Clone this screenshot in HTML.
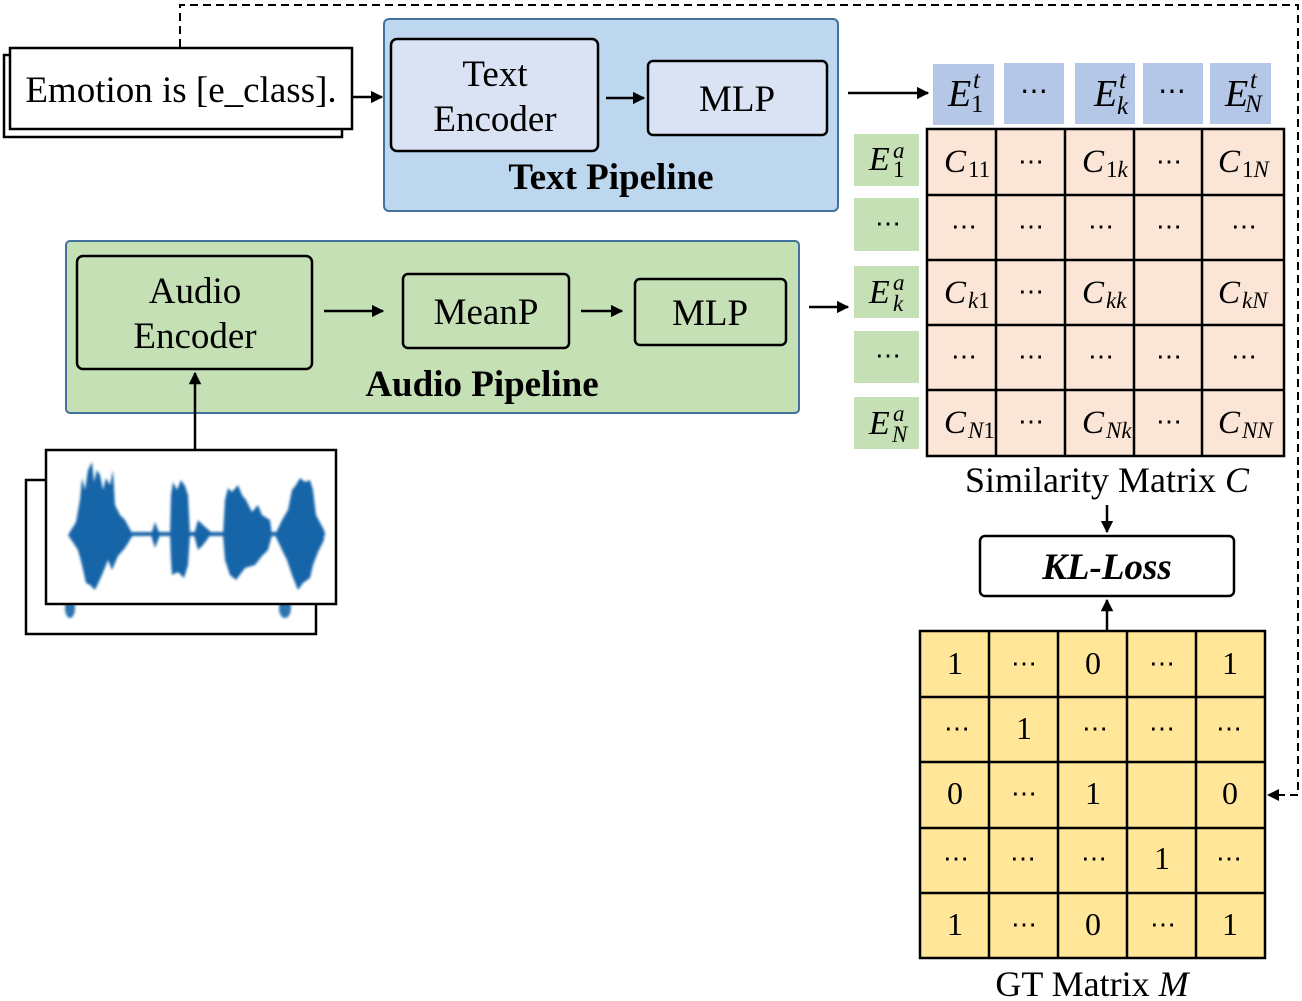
<!DOCTYPE html>
<html><head><meta charset="utf-8">
<style>
html,body{margin:0;padding:0;background:#fff;}
svg{display:block;}
text{font-family:"Liberation Serif",serif;}
.m{font-style:italic;}
</style></head>
<body>
<svg width="1302" height="1001" viewBox="0 0 1302 1001" xmlns="http://www.w3.org/2000/svg">
<defs>
<marker id="ah" viewBox="0 0 10 10" refX="9" refY="5" markerWidth="5" markerHeight="5" orient="auto"><path d="M0,0 L10,5 L0,10 z" fill="#000"/></marker>
<filter id="bl"><feGaussianBlur stdDeviation="1.2"/></filter>
</defs>

<polyline points="180,47 180,5 1298,5 1298,795 1270,795" fill="none" stroke="#000" stroke-width="2" stroke-dasharray="8,5"/>
<path d="M1267,795 l12,-6 v12 z" fill="#000"/>

<rect x="4" y="55" width="338" height="82" fill="#fff" stroke="#000" stroke-width="2.5"/>
<rect x="10" y="48" width="342" height="81" fill="#fff" stroke="#000" stroke-width="2.5"/>
<text x="181" y="102" font-size="37" text-anchor="middle">Emotion is [e_class].</text>
<line x1="352" y1="97" x2="382" y2="97" stroke="#000" stroke-width="2.5" marker-end="url(#ah)"/>

<rect x="384" y="19" width="454" height="192" rx="5" fill="#bdd7ee" stroke="#41719c" stroke-width="2"/>
<rect x="391" y="39" width="207" height="112" rx="6" fill="#dae3f3" stroke="#000" stroke-width="2.5"/>
<text x="495" y="86" font-size="37" text-anchor="middle">Text</text>
<text x="495" y="131" font-size="37" text-anchor="middle">Encoder</text>
<line x1="606" y1="98" x2="644" y2="98" stroke="#000" stroke-width="2.5" marker-end="url(#ah)"/>
<rect x="648" y="61" width="179" height="74" rx="5" fill="#dae3f3" stroke="#000" stroke-width="2.5"/>
<text x="737" y="111" font-size="37" text-anchor="middle">MLP</text>
<text x="611" y="189" font-size="37" font-weight="bold" text-anchor="middle">Text Pipeline</text>
<line x1="848" y1="93" x2="928" y2="93" stroke="#000" stroke-width="2.5" marker-end="url(#ah)"/>

<g fill="#b4c7e7">
<rect x="933" y="64" width="61" height="61"/><rect x="1004" y="63" width="60" height="61"/>
<rect x="1075" y="63" width="60" height="61"/><rect x="1143" y="63" width="60" height="61"/>
<rect x="1210" y="63" width="61" height="61"/></g>
<g font-size="38">
<text x="948" y="106" class="m">E</text><text x="973" y="88" font-size="25" class="m">t</text><text x="971" y="112" font-size="25">1</text>
<text x="1094" y="106" class="m">E</text><text x="1119" y="88" font-size="25" class="m">t</text><text x="1117" y="114" font-size="25" class="m">k</text>
<text x="1225" y="106" class="m">E</text><text x="1250" y="88" font-size="25" class="m">t</text><text x="1245" y="112" font-size="25" class="m">N</text>
</g>
<g font-size="28" text-anchor="middle">
<text x="1034" y="100">⋯</text><text x="1172" y="100">⋯</text>
</g>

<g fill="#c5e0b4">
<rect x="854" y="134" width="65" height="52"/><rect x="854" y="198" width="65" height="53"/>
<rect x="854" y="266" width="65" height="52"/><rect x="854" y="331" width="65" height="52"/>
<rect x="854" y="397" width="65" height="52"/></g>
<g font-size="34">
<text x="869" y="170" class="m">E</text><text x="893" y="158" font-size="23" class="m">a</text><text x="893" y="177" font-size="23">1</text>
<text x="869" y="303" class="m">E</text><text x="893" y="290" font-size="23" class="m">a</text><text x="893" y="311" font-size="23" class="m">k</text>
<text x="869" y="434" class="m">E</text><text x="893" y="421" font-size="23" class="m">a</text><text x="892" y="442" font-size="23" class="m">N</text>
</g>
<g font-size="26" text-anchor="middle">
<text x="888" y="232">⋯</text><text x="888" y="364">⋯</text>
</g>
<line x1="809" y1="307" x2="848" y2="307" stroke="#000" stroke-width="2.5" marker-end="url(#ah)"/>

<rect x="927" y="129" width="357" height="327" fill="#fbe5d6" stroke="#000" stroke-width="2.5"/>
<g stroke="#000" stroke-width="2.5">
<line x1="996" y1="129" x2="996" y2="456"/><line x1="1065" y1="129" x2="1065" y2="456"/>
<line x1="1134" y1="129" x2="1134" y2="456"/><line x1="1202" y1="129" x2="1202" y2="456"/>
<line x1="927" y1="195" x2="1284" y2="195"/><line x1="927" y1="260" x2="1284" y2="260"/>
<line x1="927" y1="325" x2="1284" y2="325"/><line x1="927" y1="390" x2="1284" y2="390"/>
</g>
<g font-size="33">
<text x="944" y="172" class="m">C<tspan font-size="23" font-style="normal" dx="2" dy="5">11</tspan></text>
<text x="1082" y="172" class="m">C<tspan font-size="23" font-style="normal" dx="2" dy="5">1</tspan><tspan font-size="23">k</tspan></text>
<text x="1218" y="172" class="m">C<tspan font-size="23" font-style="normal" dx="2" dy="5">1</tspan><tspan font-size="23">N</tspan></text>
<text x="944" y="303" class="m">C<tspan font-size="23" dx="2" dy="5">k</tspan><tspan font-size="23" font-style="normal">1</tspan></text>
<text x="1082" y="303" class="m">C<tspan font-size="23" dx="2" dy="5">kk</tspan></text>
<text x="1218" y="303" class="m">C<tspan font-size="23" dx="2" dy="5">kN</tspan></text>
<text x="944" y="433" class="m">C<tspan font-size="23" dx="2" dy="5">N</tspan><tspan font-size="23" font-style="normal">1</tspan></text>
<text x="1082" y="433" class="m">C<tspan font-size="23" dx="2" dy="5">Nk</tspan></text>
<text x="1218" y="433" class="m">C<tspan font-size="23" dx="2" dy="5">NN</tspan></text>
</g>
<g font-size="26" text-anchor="middle">
<text x="1031" y="170">⋯</text><text x="1169" y="170">⋯</text>
<text x="964" y="235">⋯</text><text x="1031" y="235">⋯</text><text x="1101" y="235">⋯</text><text x="1169" y="235">⋯</text><text x="1244" y="235">⋯</text>
<text x="1031" y="300">⋯</text>
<text x="964" y="365">⋯</text><text x="1031" y="365">⋯</text><text x="1101" y="365">⋯</text><text x="1169" y="365">⋯</text><text x="1244" y="365">⋯</text>
<text x="1031" y="430">⋯</text><text x="1169" y="430">⋯</text>
</g>
<text x="1107" y="492" font-size="36" text-anchor="middle">Similarity Matrix <tspan class="m">C</tspan></text>
<line x1="1107" y1="505" x2="1107" y2="532" stroke="#000" stroke-width="2.5" marker-end="url(#ah)"/>

<rect x="980" y="536" width="254" height="60" rx="5" fill="#fff" stroke="#000" stroke-width="2.5"/>
<text x="1107" y="579" font-size="37" font-weight="bold" font-style="italic" text-anchor="middle">KL-Loss</text>
<line x1="1107" y1="630" x2="1107" y2="600" stroke="#000" stroke-width="2.5" marker-end="url(#ah)"/>

<rect x="920" y="631" width="345" height="327" fill="#ffe699" stroke="#000" stroke-width="2.5"/>
<g stroke="#000" stroke-width="2.5">
<line x1="989" y1="631" x2="989" y2="958"/><line x1="1058" y1="631" x2="1058" y2="958"/>
<line x1="1127" y1="631" x2="1127" y2="958"/><line x1="1196" y1="631" x2="1196" y2="958"/>
<line x1="920" y1="697" x2="1265" y2="697"/><line x1="920" y1="762" x2="1265" y2="762"/>
<line x1="920" y1="828" x2="1265" y2="828"/><line x1="920" y1="893" x2="1265" y2="893"/>
</g>
<g font-size="32" text-anchor="middle">
<text x="955" y="674">1</text><text x="1093" y="674">0</text><text x="1230" y="674">1</text>
<text x="1024" y="739">1</text>
<text x="955" y="804">0</text><text x="1093" y="804">1</text><text x="1230" y="804">0</text>
<text x="1162" y="869">1</text>
<text x="955" y="935">1</text><text x="1093" y="935">0</text><text x="1230" y="935">1</text>
</g>
<g font-size="26" text-anchor="middle">
<text x="1024" y="672">⋯</text><text x="1162" y="672">⋯</text>
<text x="957" y="737">⋯</text><text x="1095" y="737">⋯</text><text x="1162" y="737">⋯</text><text x="1229" y="737">⋯</text>
<text x="1024" y="802">⋯</text>
<text x="956" y="867">⋯</text><text x="1023" y="867">⋯</text><text x="1094" y="867">⋯</text><text x="1229" y="867">⋯</text>
<text x="1024" y="933">⋯</text><text x="1163" y="933">⋯</text>
</g>
<text x="1092" y="996" font-size="36" text-anchor="middle">GT Matrix <tspan class="m">M</tspan></text>

<rect x="66" y="241" width="733" height="172" rx="4" fill="#c5e0b4" stroke="#41719c" stroke-width="2"/>
<rect x="77" y="256" width="235" height="113" rx="6" fill="#c5e0b4" stroke="#000" stroke-width="2.5"/>
<text x="195" y="303" font-size="37" text-anchor="middle">Audio</text>
<text x="195" y="348" font-size="37" text-anchor="middle">Encoder</text>
<line x1="324" y1="311" x2="383" y2="311" stroke="#000" stroke-width="2.5" marker-end="url(#ah)"/>
<rect x="403" y="274" width="166" height="74" rx="5" fill="#c5e0b4" stroke="#000" stroke-width="2.5"/>
<text x="486" y="324" font-size="37" text-anchor="middle">MeanP</text>
<line x1="581" y1="311" x2="622" y2="311" stroke="#000" stroke-width="2.5" marker-end="url(#ah)"/>
<rect x="635" y="279" width="151" height="66" rx="5" fill="#c5e0b4" stroke="#000" stroke-width="2.5"/>
<text x="710" y="325" font-size="37" text-anchor="middle">MLP</text>
<text x="482" y="396" font-size="37" font-weight="bold" text-anchor="middle">Audio Pipeline</text>

<rect x="26" y="480" width="290" height="154" fill="#fff" stroke="#000" stroke-width="2.5"/>
<g fill="#1565a8" filter="url(#bl)" opacity="0.9">
<ellipse cx="70" cy="608" rx="5" ry="10"/><ellipse cx="285" cy="608" rx="6" ry="10"/>
</g>
<rect x="46" y="450" width="290" height="154" fill="#fff" stroke="#000" stroke-width="2.5"/>
<g fill="#1565a8" filter="url(#bl)">
<rect x="70" y="532" width="255" height="4"/>
<polygon points="68,535 76,522 80,500 82,478 85,490 88,470 92,462 94,482 97,470 100,475 103,490 106,478 110,485 113,470 115,505 120,515 125,520 133,535 125,548 118,556 112,570 108,560 102,575 95,590 90,585 86,583 82,565 78,550"/>
<polygon points="151,535 155,522 160,535 155,548"/>
<polygon points="170,535 171,495 173,482 177,490 181,480 185,486 188,495 190,535 188,565 184,578 178,572 172,575 171,560"/>
<polygon points="194,535 198,520 203,525 212,533 203,545 198,550"/>
<polygon points="223,535 225,500 228,488 232,492 238,485 242,495 246,500 252,512 258,505 262,515 270,520 272,535 268,550 262,556 255,565 245,568 236,580 230,575 225,560"/>
<polygon points="275,535 282,520 288,510 292,490 296,485 300,478 305,482 310,480 313,490 316,515 324,530 324,540 318,552 313,565 310,578 303,583 298,590 292,575 287,560 282,550"/>
</g>
<line x1="195" y1="450" x2="195" y2="373" stroke="#000" stroke-width="2.5" marker-end="url(#ah)"/>
</svg>
</body></html>
